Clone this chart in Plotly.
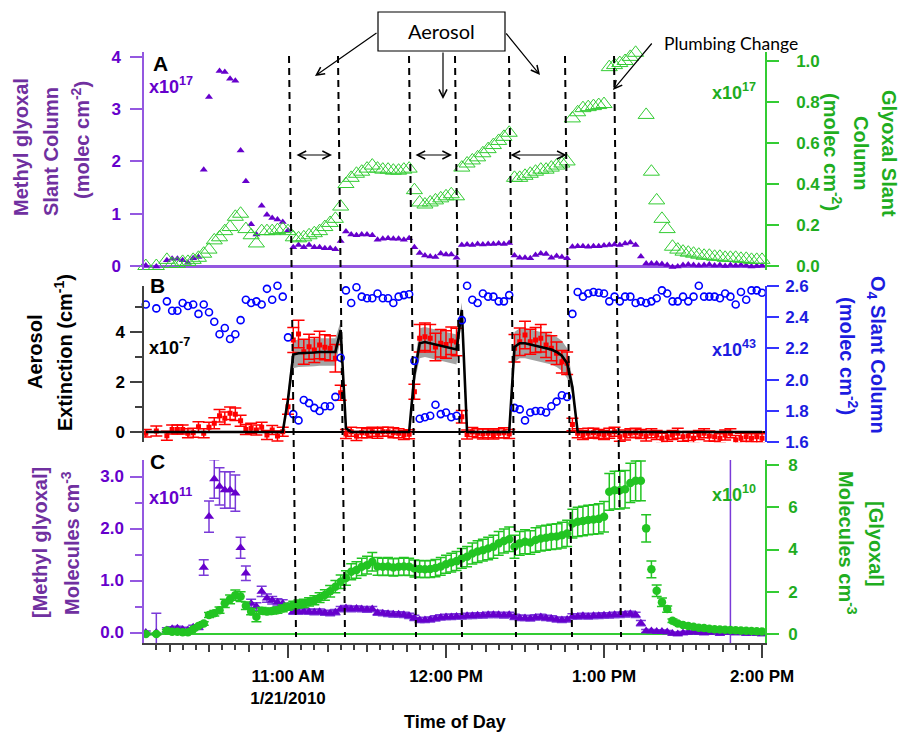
import plotly.graph_objects as go
import pandas as pd

# ---------------- figure geometry (pixels) ----------------
W, H = 902, 734
ML, MR = 144, 137
PW = W - ML - MR


def fx(px):
    return (px - ML) / PW


def fy(py):
    return 1 - py / H


# ---------------- data ----------------
# sample times (2-minute retrievals, 1/21/2010)
times = pd.date_range("2010-01-21 10:06:00", periods=118, freq="2min")

# Panel A: methyl glyoxal slant column (x1e17 molec cm-2)
mg_sc = [0.01, None, -0.01, None, 0.11, 0.14, 0.14, 0.11, 0.06, 0.15,
         0.17, 1.84, 3.23, 4.10, 3.73, 3.71, 3.58, 3.54, 2.21, 1.62,
         0.80, 0.60, 1.15, 0.98, 0.92, 0.89, 0.84, 0.68, 0.36, 0.40,
         0.36, 0.40, 0.36, 0.36, 0.34, 0.34, 0.32, 0.48, 0.66, 0.60,
         0.59, 0.60, 0.60, 0.59, 0.50, 0.52, 0.53, 0.52, 0.52, 0.50,
         0.53, 0.36, 0.25, 0.20, 0.18, 0.17, 0.24, 0.22, 0.22, 0.16,
         0.40, 0.41, 0.40, 0.42, 0.41, 0.42, 0.42, 0.43, 0.42, 0.44,
         0.20, 0.16, 0.16, 0.15, 0.21, 0.24, 0.23, 0.16, 0.19, 0.17,
         0.15, 0.37, 0.38, 0.38, 0.37, 0.38, 0.38, 0.39, 0.40, 0.41,
         0.40, 0.43, 0.45, 0.40, 0.18, 0.05, 0.05, 0.05, 0.04, 0.02,
         -0.02, -0.01, 0.02, 0.03, 0.02, 0.01, 0.02, 0.03, 0.01, 0.02,
         0.00, 0.02, 0.01, 0.02, 0.01, -0.01, 0.00, 0.01]

# Panel A: glyoxal slant column (x1e17 molec cm-2)
gl_sc = [0.00, None, 0.00, None, 0.03, 0.01, 0.01, 0.02, 0.02, 0.03,
         0.04, 0.06, 0.08, 0.125, 0.14, 0.17, 0.19, 0.24, 0.255, 0.18,
         0.15, 0.11, 0.17, 0.17, 0.17, 0.175, 0.18, 0.17, 0.14, 0.135,
         0.14, 0.15, 0.16, 0.17, 0.19, 0.21, 0.23, 0.29, 0.40, 0.43,
         0.45, 0.46, 0.475, 0.49, 0.475, 0.47, 0.47, 0.465, 0.465, 0.47,
         0.475, 0.37, 0.31, 0.30, 0.31, 0.32, 0.33, 0.34, 0.35, 0.34,
         0.48, 0.50, 0.515, 0.53, 0.55, 0.57, 0.59, 0.61, 0.63, 0.65,
         0.43, 0.43, 0.44, 0.45, 0.46, 0.47, 0.47, 0.48, 0.49, 0.50,
         0.51, 0.72, 0.75, 0.77, 0.775, 0.78, 0.785, 0.79, 0.97, 0.98,
         0.99, 1.00, 1.02, 1.04, 1.045, 0.737, 0.46, 0.32, 0.23, 0.18,
         0.094, 0.08, 0.07, 0.065, 0.06, 0.055, 0.05, 0.05, 0.045, 0.045,
         0.04, 0.04, 0.04, 0.035, 0.035, 0.03, 0.03, 0.03]

# Panel B: O4 slant column (x1e43 molec cm-2)
o4_sc = [2.48, None, 2.455, None, 2.50, 2.44, 2.44, 2.49, 2.47, 2.48,
         2.42, 2.48, 2.43, 2.37, 2.29, 2.33, 2.26, 2.29, 2.38, 2.51,
         2.49, 2.50, 2.48, 2.58, 2.51, 2.60, 2.53, 2.27, 1.78, 1.74,
         1.87, 1.85, 1.82, 1.80, 1.83, 1.83, 1.89, 2.14, 2.57, 2.49,
         2.59, 2.53, 2.52, 2.52, 2.55, 2.52, 2.52, 2.49, 2.53, 2.54,
         2.545, 2.12, 1.75, 1.76, 1.77, 1.84, 1.78, 1.79, 1.76, 1.77,
         2.38, 2.60, 2.51, 2.49, 2.55, 2.53, 2.53, 2.50, 2.50, 2.54,
         1.82, 1.81, 1.74, 1.79, 1.80, 1.80, 1.79, 1.83, 1.86, 1.90,
         1.89, 2.42, 2.56, 2.53, 2.55, 2.56, 2.555, 2.55, 2.50, 2.53,
         2.50, 2.53, 2.53, 2.49, 2.50, 2.49, 2.50, 2.52, 2.57, 2.55,
         2.50, 2.50, 2.53, 2.50, 2.53, 2.60, 2.53, 2.53, 2.53, 2.52,
         2.55, 2.53, 2.48, 2.56, 2.51, 2.57, 2.57, 2.555]

# Panel B: measured aerosol extinction (x1e-7 cm-1) and its error
ext = [-0.05, None, 0.04, None, -0.15, 0.10, 0.10, 0.10, -0.05, -0.03,
       0.21, -0.05, 0.19, 0.35, 0.65, 0.55, 0.75, 0.71, 0.45, 0.10,
       0.15, 0.08, 0.19, -0.12, 0.08, -0.16, 0.01, 1.01, 3.68, 3.92,
       3.21, 3.41, 3.28, 3.48, 3.39, 3.35, 2.95, 1.57, -0.08, 0.01,
       -0.16, -0.03, -0.05, 0.01, -0.05, 0.01, 0.01, -0.03, -0.05, -0.12,
       -0.09, 1.61, 3.75, 3.81, 3.75, 3.40, 3.55, 3.50, 3.65, 3.60,
       0.61, -0.10, 0.00, -0.05, -0.08, -0.05, -0.10, -0.05, -0.03, -0.08,
       3.35, 3.61, 3.88, 3.61, 3.68, 3.75, 3.48, 3.35, 3.15, 2.81,
       2.75, 0.30, -0.05, -0.12, -0.05, -0.03, -0.08, -0.12, -0.05, 0.01,
       -0.19, -0.12, -0.05, -0.03, -0.08, -0.16, -0.05, -0.12, -0.25, -0.19,
       -0.12, -0.05, -0.19, -0.16, -0.25, -0.12, -0.05, -0.16, -0.19, -0.25,
       -0.12, -0.05, -0.32, -0.25, -0.19, -0.25, -0.19, -0.25]
ext_err = [0.15, None, 0.20, None, 0.18, 0.18, 0.18, 0.18, 0.18, 0.18,
           0.20, 0.18, 0.20, 0.22, 0.25, 0.25, 0.25, 0.25, 0.22, 0.20,
           0.20, 0.20, 0.20, 0.18, 0.18, 0.20, 0.18, 0.30, 0.50, 0.55,
           0.50, 0.50, 0.50, 0.55, 0.50, 0.50, 0.55, 0.30, 0.18, 0.18,
           0.18, 0.20, 0.18, 0.18, 0.20, 0.18, 0.18, 0.20, 0.18, 0.18,
           0.18, 0.30, 0.55, 0.55, 0.55, 0.55, 0.55, 0.55, 0.55, 0.55,
           0.25, 0.18, 0.18, 0.18, 0.20, 0.18, 0.18, 0.18, 0.20, 0.18,
           0.55, 0.55, 0.55, 0.50, 0.50, 0.55, 0.50, 0.50, 0.45, 0.45,
           0.45, 0.25, 0.18, 0.18, 0.20, 0.18, 0.18, 0.18, 0.20, 0.18,
           0.18, 0.20, 0.18, 0.18, 0.18, 0.20, 0.18, 0.18, 0.20, 0.18,
           0.18, 0.20, 0.18, 0.18, 0.20, 0.18, 0.18, 0.20, 0.18, 0.18,
           0.20, 0.18, 0.18, 0.20, 0.18, 0.18, 0.20, 0.18]

# Panel B: modelled extinction (black line) and its uncertainty (grey band)
model_ext = [0.0, 0.0, 0.0, 0.0, 0.0, 0.0, 0.0, 0.0, 0.0, 0.0,
             0.0, 0.0, 0.0, 0.0, 0.0, 0.0, 0.0, 0.0, 0.0, 0.0,
             0.0, 0.0, 0.0, 0.0, 0.0, 0.0, 0.0, 1.3, 3.1, 3.15,
             3.15, 3.18, 3.18, 3.2, 3.2, 3.18, 3.2, 4.08, 0.15, 0.0,
             0.0, 0.0, 0.0, 0.0, 0.0, 0.0, 0.0, 0.0, 0.0, 0.0,
             0.0, 2.3, 3.55, 3.6, 3.55, 3.48, 3.42, 3.38, 3.32, 3.3,
             4.88, 0.0, 0.0, 0.0, 0.0, 0.0, 0.0, 0.0, 0.0, 0.0,
             3.4, 3.55, 3.55, 3.5, 3.45, 3.4, 3.35, 3.3, 3.2, 3.05,
             2.75, 1.8, 0.0, 0.0, 0.0, 0.0, 0.0, 0.0, 0.0, 0.0,
             0.0, 0.0, 0.0, 0.0, 0.0, 0.0, 0.0, 0.0, 0.0, 0.0,
             0.0, 0.0, 0.0, 0.0, 0.0, 0.0, 0.0, 0.0, 0.0, 0.0,
             0.0, 0.0, 0.0, 0.0, 0.0, 0.0, 0.0, 0.0]
model_unc = [0.0, 0.0, 0.0, 0.0, 0.0, 0.0, 0.0, 0.0, 0.0, 0.0,
             0.0, 0.0, 0.0, 0.0, 0.0, 0.0, 0.0, 0.0, 0.0, 0.0,
             0.0, 0.0, 0.0, 0.0, 0.0, 0.0, 0.0, 0.25, 0.55, 0.55,
             0.55, 0.55, 0.55, 0.55, 0.55, 0.55, 0.55, 0.35, 0.05, 0.0,
             0.0, 0.0, 0.0, 0.0, 0.0, 0.0, 0.0, 0.0, 0.0, 0.0,
             0.0, 0.35, 0.6, 0.6, 0.6, 0.6, 0.6, 0.6, 0.6, 0.6,
             0.3, 0.0, 0.0, 0.0, 0.0, 0.0, 0.0, 0.0, 0.0, 0.0,
             0.6, 0.6, 0.6, 0.6, 0.6, 0.6, 0.6, 0.6, 0.6, 0.6,
             0.6, 0.3, 0.0, 0.0, 0.0, 0.0, 0.0, 0.0, 0.0, 0.0,
             0.0, 0.0, 0.0, 0.0, 0.0, 0.0, 0.0, 0.0, 0.0, 0.0,
             0.0, 0.0, 0.0, 0.0, 0.0, 0.0, 0.0, 0.0, 0.0, 0.0,
             0.0, 0.0, 0.0, 0.0, 0.0, 0.0, 0.0, 0.0]

# Panel C: [methyl glyoxal] (x1e11 molecules cm-3) and error
mg_conc = [0.00, None, 0.00, None, 0.05, 0.07, 0.08, 0.06, 0.05, 0.10,
           0.10, 1.25, 2.23, 2.95, 2.81, 2.74, 2.74, 2.68, 1.63, 1.14,
           0.56, 0.50, 0.79, 0.66, 0.62, 0.58, 0.56, 0.50, 0.40, 0.40,
           0.41, 0.40, 0.39, 0.40, 0.38, 0.37, 0.39, 0.45, 0.47, 0.45,
           0.46, 0.45, 0.44, 0.45, 0.38, 0.37, 0.36, 0.35, 0.35, 0.34,
           0.32, 0.28, 0.24, 0.24, 0.25, 0.27, 0.29, 0.30, 0.30, 0.31,
           0.31, 0.32, 0.32, 0.33, 0.33, 0.34, 0.34, 0.34, 0.33, 0.34,
           0.30, 0.28, 0.28, 0.27, 0.29, 0.30, 0.28, 0.27, 0.25, 0.24,
           0.25, 0.31, 0.31, 0.32, 0.31, 0.32, 0.32, 0.33, 0.33, 0.34,
           0.34, 0.35, 0.36, 0.34, 0.18, 0.03, 0.03, 0.02, 0.02, 0.01,
           -0.02, -0.03, -0.01, 0.00, 0.01, 0.00, -0.01, 0.00, 0.01, -0.02,
           0.00, 0.01, -0.01, 0.00, -0.02, -0.01, -0.02, -0.03]
mg_conc_err = [0.03, None, 0.37, None, 0.04, 0.04, 0.04, 0.04, 0.04, 0.04,
               0.04, 0.15, 0.30, 0.37, 0.36, 0.35, 0.35, 0.35, 0.20, 0.14,
               0.08, 0.07, 0.10, 0.08, 0.07, 0.07, 0.07, 0.06, 0.05, 0.05,
               0.05, 0.05, 0.05, 0.05, 0.05, 0.05, 0.05, 0.05, 0.05, 0.05,
               0.05, 0.05, 0.05, 0.05, 0.05, 0.05, 0.05, 0.05, 0.05, 0.05,
               0.05, 0.05, 0.05, 0.05, 0.05, 0.05, 0.05, 0.05, 0.05, 0.05,
               0.05, 0.05, 0.05, 0.05, 0.05, 0.05, 0.05, 0.05, 0.05, 0.05,
               0.05, 0.05, 0.05, 0.05, 0.05, 0.05, 0.05, 0.05, 0.05, 0.05,
               0.05, 0.05, 0.05, 0.05, 0.05, 0.05, 0.05, 0.05, 0.05, 0.05,
               0.05, 0.05, 0.05, 0.05, 0.05, 0.03, 0.03, 0.03, 0.03, 0.03,
               0.03, 0.03, 0.03, 0.03, 0.03, 0.03, 0.03, 0.03, 0.03, 0.03,
               0.03, 3.40, 0.03, 0.03, 0.03, 0.03, 0.03, 0.03]

# Panel C: [glyoxal] (x1e10 molecules cm-3) and error
gl_conc = [0.00, None, 0.00, None, 0.16, 0.11, 0.11, 0.08, 0.08, 0.22,
           0.38, 0.50, 0.90, 0.98, 1.13, 1.45, 1.64, 1.84, 1.77, 1.34,
           1.06, 0.82, 1.10, 1.06, 1.09, 1.13, 1.21, 1.29, 1.37, 1.42,
           1.45, 1.52, 1.60, 1.72, 1.85, 2.02, 2.24, 2.47, 2.65, 2.95,
           3.03, 3.18, 3.26, 3.42, 3.20, 3.18, 3.20, 3.15, 3.18, 3.20,
           3.18, 3.10, 3.08, 3.07, 3.08, 3.12, 3.20, 3.30, 3.38, 3.45,
           3.58, 3.66, 3.81, 3.90, 3.97, 4.05, 4.13, 4.29, 4.40, 4.48,
           4.13, 4.29, 4.37, 4.33, 4.45, 4.52, 4.56, 4.60, 4.62, 4.68,
           4.76, 5.23, 5.31, 5.35, 5.40, 5.42, 5.45, 5.55, 6.73, 6.81,
           6.81, 6.85, 7.15, 7.25, 7.25, 5.00, 3.06, 2.05, 1.50, 1.18,
           0.63, 0.50, 0.43, 0.38, 0.34, 0.30, 0.28, 0.25, 0.23, 0.21,
           0.20, 0.19, 0.18, 0.16, 0.15, 0.14, 0.13, 0.12]
gl_conc_err = [0.05, None, 0.05, None, 0.05, 0.05, 0.05, 0.05, 0.05, 0.05,
               0.06, 0.08, 0.12, 0.13, 0.15, 0.19, 0.21, 0.24, 0.23, 0.18,
               0.15, 0.24, 0.15, 0.14, 0.14, 0.15, 0.16, 0.17, 0.18, 0.19,
               0.19, 0.20, 0.21, 0.23, 0.25, 0.27, 0.29, 0.32, 0.34, 0.38,
               0.39, 0.41, 0.42, 0.44, 0.42, 0.41, 0.42, 0.41, 0.41, 0.42,
               0.41, 0.40, 0.40, 0.40, 0.40, 0.41, 0.42, 0.43, 0.44, 0.45,
               0.47, 0.48, 0.50, 0.51, 0.52, 0.53, 0.54, 0.56, 0.57, 0.58,
               0.54, 0.56, 0.57, 0.56, 0.58, 0.59, 0.59, 0.60, 0.60, 0.61,
               0.62, 0.68, 0.69, 0.70, 0.70, 0.70, 0.71, 0.72, 0.87, 0.89,
               0.89, 0.89, 0.93, 0.94, 0.94, 0.65, 0.40, 0.27, 0.20, 0.15,
               0.08, 0.07, 0.06, 0.05, 0.05, 0.05, 0.05, 0.05, 0.05, 0.05,
               0.05, 0.05, 0.05, 0.05, 0.05, 0.05, 0.05, 0.05]

# event markers (dashed lines: time at top of line) and aerosol arrows
event_times = ["2010-01-21 11:00:23", "2010-01-21 11:18:59", "2010-01-21 11:45:57",
               "2010-01-21 12:03:25", "2010-01-21 12:23:55", "2010-01-21 12:45:11",
               "2010-01-21 13:03:48"]
aerosol_spans = [("2010-01-21 11:02:40", "2010-01-21 11:16:43"),
                 ("2010-01-21 11:47:51", "2010-01-21 12:02:17"),
                 ("2010-01-21 12:23:55", "2010-01-21 12:45:50")]

# tick labels
x_hours = ["2010-01-21 11:00", "2010-01-21 12:00", "2010-01-21 13:00", "2010-01-21 14:00"]
x_hour_labels = ["11:00 AM<br>1/21/2010", "12:00 PM", "1:00 PM", "2:00 PM"]
a_left_ticks = [0, 1, 2, 3, 4]
a_right_ticks = [0.0, 0.2, 0.4, 0.6, 0.8, 1.0]
b_left_ticks = [0, 2, 4]
b_right_ticks = [1.6, 1.8, 2.0, 2.2, 2.4, 2.6]
c_left_ticks = [0, 1, 2, 3]
c_left_labels = ["0.0", "1.0", "2.0", "3.0"]
c_right_ticks = [0, 2, 4, 6, 8]

# ---------------- styling ----------------
PURPLE = "#6600cc"
PURPLE_T = "#7030a0"
PURPLE_L = "#9458e0"
GREEN = "#33cc33"
GREEN_T = "#1fad1f"
BLUE = "#0000ff"
BLUE_T = "#1c1ce0"
RED = "#ff0000"
AX_DARK = "#404040"
FONT = "Liberation Sans"
XR = ["2010-01-21 10:05:19", "2010-01-21 14:01:08"]

fig = go.Figure()

# Panel A
fig.add_trace(go.Scatter(x=times, y=mg_sc, mode="markers", xaxis="x", yaxis="y",
                         marker=dict(symbol="triangle-up", size=7, color=PURPLE),
                         cliponaxis=False, showlegend=False))
fig.add_trace(go.Scatter(x=times, y=gl_sc, mode="markers", xaxis="x", yaxis="y2",
                         marker=dict(symbol="triangle-up-open", size=14, color=GREEN,
                                     line=dict(width=1, color=GREEN)),
                         cliponaxis=False, showlegend=False))

# Panel B
band_hi = [m + u for m, u in zip(model_ext, model_unc)]
band_lo = [m - u for m, u in zip(model_ext, model_unc)]
fig.add_trace(go.Scatter(x=times, y=band_hi, mode="lines", xaxis="x", yaxis="y3",
                         line=dict(width=0, color="rgba(0,0,0,0)"), showlegend=False))
fig.add_trace(go.Scatter(x=times, y=band_lo, mode="lines", xaxis="x", yaxis="y3",
                         line=dict(width=0, color="rgba(0,0,0,0)"), fill="tonexty",
                         fillcolor="rgba(140,140,140,0.8)", showlegend=False))
fig.add_trace(go.Scatter(x=times, y=ext, mode="markers", xaxis="x", yaxis="y3",
                         marker=dict(symbol="square", size=5, color=RED),
                         error_y=dict(type="data", array=ext_err, color=RED,
                                      thickness=1.5, width=6),
                         showlegend=False))
fig.add_trace(go.Scatter(x=times, y=model_ext, mode="lines", xaxis="x", yaxis="y3",
                         line=dict(color="black", width=2.6), showlegend=False))
fig.add_trace(go.Scatter(x=times, y=o4_sc, mode="markers", xaxis="x", yaxis="y4",
                         marker=dict(symbol="circle-open", size=7, color=BLUE,
                                     line=dict(width=1.6, color=BLUE)),
                         cliponaxis=False, showlegend=False))

# Panel C
fig.add_trace(go.Scatter(x=times, y=mg_conc, mode="markers", xaxis="x", yaxis="y5",
                         marker=dict(symbol="triangle-up", size=9, color=PURPLE),
                         error_y=dict(type="data", array=mg_conc_err, color="#7a3ad8",
                                      thickness=1.5, width=5),
                         showlegend=False))
fig.add_trace(go.Scatter(x=times, y=gl_conc, mode="markers", xaxis="x", yaxis="y6",
                         marker=dict(symbol="circle", size=8.5, color="#22c422"),
                         error_y=dict(type="data", array=gl_conc_err, color="#22c422",
                                      thickness=1.5, width=5),
                         showlegend=False))
# carrier for the 15-minute tick axis
fig.add_trace(go.Scatter(x=[times[0]], y=[None], xaxis="x2", yaxis="y5",
                         mode="markers", showlegend=False, hoverinfo="skip"))


def tfont(color, size=17):
    return dict(family=FONT, size=size, color=color, weight="bold")


def yax(domain, rng, color_line, color_txt, tickvals, side="left", overlaying=None,
        ticktext=None, fmt=None, minor_vals=None, zero=None, standoff=0):
    d = dict(domain=domain, range=rng, anchor="x", side=side, showgrid=False,
             showline=True, linecolor=color_line, linewidth=1.5,
             ticks="outside", ticklen=12, tickwidth=1.5, tickcolor=color_line,
             tickvals=tickvals, tickfont=tfont(color_txt), ticklabelstandoff=standoff,
             zeroline=False)
    if overlaying:
        d["overlaying"] = overlaying
    if ticktext is not None:
        d["ticktext"] = ticktext
    if fmt:
        d["tickformat"] = fmt
    if minor_vals is not None:
        d["minor"] = dict(tickvals=minor_vals, ticks="outside", ticklen=7,
                          tickwidth=1.5, tickcolor=color_line, showgrid=False)
    if zero:
        d["zeroline"] = True
        d["zerolinecolor"] = zero[0]
        d["zerolinewidth"] = zero[1]
    return d


domA = [fy(270), fy(52)]
domB = [fy(442.3), fy(285.7)]
domC = [fy(643), fy(460)]

tick15 = list(pd.date_range("2010-01-21 10:15", "2010-01-21 14:00", freq="15min"))

fig.update_layout(
    width=W, height=H, plot_bgcolor="white", paper_bgcolor="white",
    margin=dict(l=ML, r=MR, t=0, b=0, autoexpand=False),
    showlegend=False,
    xaxis=dict(type="date", range=XR, anchor="y5", showgrid=False, zeroline=False,
               showline=True, linecolor=AX_DARK, linewidth=1.5,
               tickvals=x_hours, ticktext=x_hour_labels, ticks="outside",
               ticklen=13, tickwidth=1.5, tickcolor=AX_DARK,
               tickfont=tfont("black"), ticklabelstandoff=4,
               minor=dict(dtick=300000, tick0="2010-01-21 10:00:00", ticks="outside",
                          ticklen=5, tickwidth=1.5, tickcolor=AX_DARK, showgrid=False)),
    xaxis2=dict(type="date", range=XR, anchor="y5", overlaying="x", side="bottom",
                showgrid=False, zeroline=False, showline=False, tickvals=tick15,
                ticks="outside", ticklen=8, tickwidth=1.5, tickcolor=AX_DARK,
                showticklabels=False),
    yaxis=yax(domA, [-4 / 52.3, 214 / 52.3], PURPLE_L, PURPLE, a_left_ticks,
              zero=(PURPLE_L, 2.5), standoff=6),
    yaxis2=yax(domA, [-4 / 205, 214 / 205], GREEN, GREEN_T, a_right_ticks, side="right",
               overlaying="y", fmt=".1f", standoff=14),
    yaxis3=yax(domB, [-10.3 / 25, 146.3 / 25], AX_DARK, "black", b_left_ticks,
               minor_vals=[1, 3, 5], zero=("black", 1.5), standoff=2),
    yaxis4=yax(domB, [1.6, 2.6], "#3333ff", BLUE_T, b_right_ticks, side="right",
               overlaying="y3", fmt=".1f", standoff=3),
    yaxis5=yax(domC, [-10.5 / 52, 172.5 / 52], PURPLE_L, PURPLE, c_left_ticks,
               ticktext=c_left_labels, minor_vals=[0.5, 1.5, 2.5], standoff=3),
    yaxis6=yax(domC, [-9 / 21.125, 174 / 21.125], GREEN, GREEN_T, c_right_ticks,
               side="right", overlaying="y5", zero=(GREEN, 1.5), standoff=6),
)

# ---------------- shapes ----------------
shapes = []
slant = pd.Timedelta(seconds=160)
for t in event_times:
    t0 = pd.Timestamp(t)
    shapes.append(dict(type="line", xref="x", yref="paper",
                       x0=t0, y0=fy(56), x1=t0 + slant, y1=fy(637),
                       line=dict(color="black", width=2, dash="7px,5px")))
shapes.append(dict(type="rect", xref="paper", yref="paper",
                   x0=fx(378), x1=fx(505), y0=fy(51), y1=fy(12),
                   line=dict(color="black", width=1.2), fillcolor="white"))
fig.update_layout(shapes=shapes)

# ---------------- annotations ----------------
anns = []


def txt(text, x, y, size, color, angle=0, xanchor="center", family=FONT, bold=True):
    f = dict(family=family, size=size, color=color)
    if bold:
        f["weight"] = "bold"
    anns.append(dict(text=text, x=fx(x), y=fy(y), xref="paper", yref="paper",
                     showarrow=False, textangle=angle, font=f,
                     xanchor=xanchor, yanchor="middle"))


def arrow(hx, hy, tx, ty):
    anns.append(dict(text="", x=fx(hx), y=fy(hy), xref="paper", yref="paper",
                     ax=tx - hx, ay=ty - hy, axref="pixel", ayref="pixel",
                     showarrow=True, arrowhead=5, arrowsize=1.3, arrowwidth=1.2,
                     arrowcolor="black"))


# axis titles (one annotation per line)
txt("Methyl glyoxal", 21, 147, 20, PURPLE_T, -90)
txt("Slant Column", 51, 152, 20, PURPLE_T, -90)
txt("(molec cm<sup>-2</sup>)", 80, 140, 20, PURPLE_T, -90)
txt("Glyoxal Slant", 889, 153, 20, GREEN_T, 90)
txt("Column", 861, 153, 20, GREEN_T, 90)
txt("(molec cm<sup>-2</sup>)", 832, 152, 20, GREEN_T, 90)
txt("Aerosol", 35, 352, 20, "black", -90)
txt("Extinction (cm<sup>-1</sup>)", 63, 353, 20, "black", -90)
txt("O<sub>4</sub> Slant Column", 877, 355, 20, BLUE_T, 90)
txt("(molec cm<sup>-2</sup>)", 849, 356, 20, BLUE_T, 90)
txt("[Methyl glyoxal]", 40, 543, 20, PURPLE_T, -90)
txt("Molecules cm<sup>-3</sup>", 70, 543, 20, PURPLE_T, -90)
txt("[Glyoxal]", 876, 544, 20, GREEN_T, 90)
txt("Molecules cm<sup>-3</sup>", 848, 543, 20, GREEN_T, 90)
txt("Time of Day", 455, 722, 18, "black")

# panel letters and multipliers
txt("A", 160, 64, 21, "black")
txt("B", 157, 285, 21, "black")
txt("C", 157, 461, 21, "black")
txt("x10<sup>17</sup>", 147, 86, 18, PURPLE, xanchor="left")
txt("x10<sup>-7</sup>", 147, 346, 18, "black", xanchor="left")
txt("x10<sup>11</sup>", 147, 496, 18, PURPLE, xanchor="left")
txt("x10<sup>17</sup>", 710, 91, 18, GREEN_T, xanchor="left")
txt("x10<sup>43</sup>", 710, 348, 18, BLUE_T, xanchor="left")
txt("x10<sup>10</sup>", 710, 493, 18, GREEN_T, xanchor="left")

# Aerosol call-out and plumbing change note
txt("Aerosol", 441, 31, 20, "black", family="Lato", bold=False)
txt("Plumbing Change", 731, 43, 17.5, "black", family="Lato", bold=False)
arrow(315, 76, 378, 32)
arrow(443, 99, 443, 51)
arrow(540, 75, 505, 32)
arrow(613, 90, 653, 42)

for t_start, t_end in aerosol_spans:
    anns.append(dict(text="", x=t_end, y=fy(155), xref="x", yref="paper",
                     ax=t_start, ay=0, axref="x", ayref="pixel",
                     showarrow=True, arrowside="end+start", arrowhead=5,
                     startarrowhead=5, arrowsize=1.3, startarrowsize=1.3,
                     arrowwidth=1.2, arrowcolor="black"))

fig.update_layout(annotations=anns)

fig.write_html("out.html", config={"displayModeBar": False},
               post_script="document.body.style.margin='0px';")
